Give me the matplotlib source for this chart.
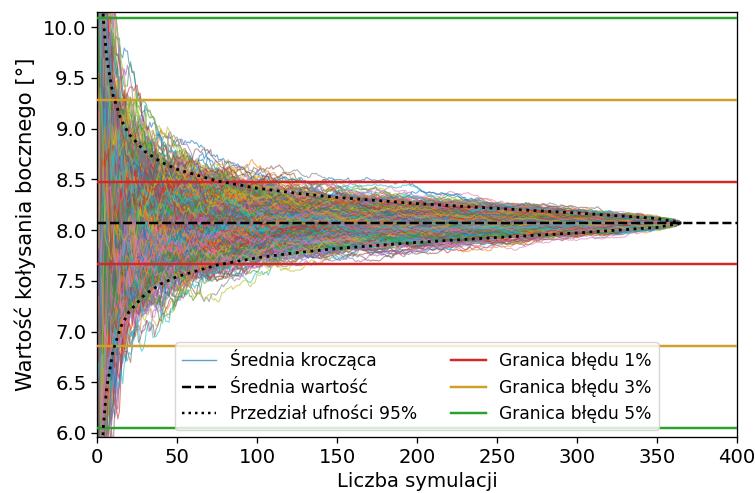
import numpy as np
import matplotlib
matplotlib.use("Agg")
import matplotlib.pyplot as plt

# wartości
n_sim = 365                 # liczba symulacji (zbieżność przy ~365)
mean_value = 8.07           # średnia wartość kołysania [deg]
sample_std = 2.05           # rozrzut pojedynczej symulacji (z szerokości przedziału)
n_runs = 1000               # liczba losowych kolejności (średnie kroczące)

# przedział ufności 95% - połowa szerokości odczytana dla wybranych n
ci_n = [1, 2, 3, 4, 6, 10, 15, 20, 30, 40, 50, 75, 100, 125, 150, 200, 250, 300, 350, 365]
ci_half = [4.02, 2.84, 2.32, 2.00, 1.63, 1.26, 1.02, 0.875, 0.704, 0.60, 0.529, 0.414,
           0.343, 0.292, 0.252, 0.191, 0.143, 0.098, 0.044, 0.0]

# granice błędu
bound_frac = [0.05, 0.15, 0.25]
bound_labels = ['Granica błędu 1%', 'Granica błędu 3%', 'Granica błędu 5%']
bound_colors = ['#d62728', '#cf9f27', '#2ca02c']

# Średnie kroczące: każda linia to inna (losowa) kolejność tych samych wyników symulacji,
# pojedynczych przebiegów nie da się odczytać z obrazka
rng = np.random.default_rng(3)
sample = rng.normal(mean_value, sample_std, n_sim)
sample = sample - sample.mean() + mean_value
n = np.arange(1, n_sim + 1)

s = 1.18  # skala względem domyślnych rozmiarów
plt.rcParams.update({
    'font.size': 12 * s,
    'legend.fontsize': 12.3,
    'axes.linewidth': 0.8 * s,
    'xtick.major.size': 3.5 * s,
    'ytick.major.size': 3.5 * s,
    'xtick.major.width': 0.8 * s,
    'ytick.major.width': 0.8 * s,
})
fig = plt.figure(figsize=(7.55, 4.93), dpi=100)
ax = fig.add_axes([0.1285, 0.1136, 0.8477, 0.8621])

for i in range(n_runs):
    run = np.cumsum(rng.permutation(sample)) / n
    ax.plot(n, run, lw=0.8, alpha=0.6)

ci_n = np.array(ci_n)
ci_half = np.array(ci_half)
ax.plot(ci_n, mean_value + ci_half, ':', color='black', lw=2, zorder=5)
ax.plot(ci_n, mean_value - ci_half, ':', color='black', lw=2, zorder=5)

for f, c in zip(bound_frac, bound_colors):
    ax.axhline(mean_value * (1 + f), color=c, lw=1.5 * s, zorder=4)
    ax.axhline(mean_value * (1 - f), color=c, lw=1.5 * s, zorder=4)
ax.axhline(mean_value, color='black', ls='--', lw=1.5 * s, zorder=6)

ax.set_xlim(0, 400)
ax.set_ylim(5.96, 10.15)
ax.set_xlabel('Liczba symulacji')
ax.set_ylabel('Wartość kołysania bocznego [°]', fontsize=15.3, labelpad=5)

handles = [
    plt.Line2D([], [], color='#1f77b4', lw=1.0, alpha=0.7),
    plt.Line2D([], [], color='black', ls='--', lw=1.5 * s),
    plt.Line2D([], [], color='black', ls=':', lw=1.5 * s),
] + [plt.Line2D([], [], color=c, lw=1.5 * s) for c in bound_colors]
labels = ['Średnia krocząca', 'Średnia wartość', 'Przedział ufności 95%'] + bound_labels
ax.legend(handles, labels, ncol=2, loc='lower center', borderaxespad=0.4)

fig.savefig('out.png', dpi=100)
